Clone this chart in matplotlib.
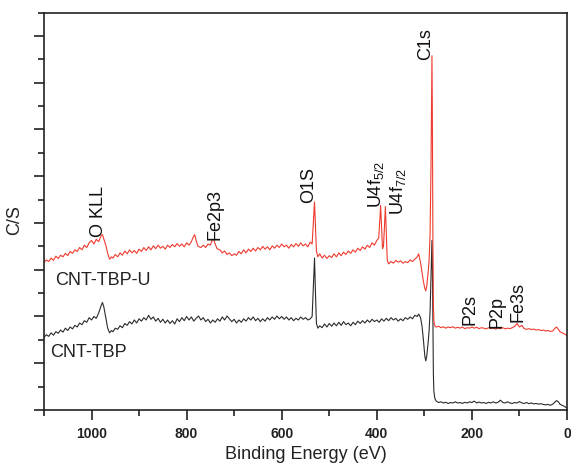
import matplotlib
matplotlib.use("Agg")
import matplotlib.pyplot as plt
from matplotlib.ticker import MultipleLocator, NullFormatter

plt.rcParams['font.family'] = ['Liberation Sans', 'DejaVu Sans']
plt.rcParams['mathtext.fontset'] = 'custom'
plt.rcParams['mathtext.rm'] = 'Liberation Sans'
plt.rcParams['mathtext.it'] = 'Liberation Sans'

# ---- data (binding energy in eV, intensity in arbitrary C/S units) ----
be_tbp = [1100, 1095, 1090, 1085, 1080, 1075, 1070, 1065, 1060, 1055, 1050, 1045, 1040, 1035, 1030, 1025, 1020, 1015, 1010, 1005, 1000,
          995, 990, 985, 980, 977, 974, 970, 966, 962, 958, 955, 950, 945, 940, 935, 930, 925, 920, 915, 910, 905, 900,
          895, 890, 885, 880, 875, 870, 865, 860, 855, 850, 845, 840, 835, 830, 825, 820, 815, 810, 805, 800,
          795, 790, 785, 780, 775, 770, 765, 760, 755, 750, 745, 740, 735, 730, 725, 720, 715, 710, 705, 700,
          695, 690, 685, 680, 675, 670, 665, 660, 655, 650, 645, 640, 635, 630, 625, 620, 615, 610, 605, 600,
          595, 590, 585, 580, 575, 570, 565, 560, 555, 550, 545, 540, 536, 533, 531, 529, 527, 524, 520,
          515, 510, 505, 500, 495, 490, 485, 480, 475, 470, 465, 460, 455, 450, 445, 440, 435, 430, 425, 420,
          415, 410, 405, 400, 395, 390, 385, 380, 375, 370, 365, 360, 355, 350, 345, 340, 335, 330, 325, 320,
          315, 312, 308, 305, 302, 299, 297, 295, 292, 290, 288, 286, 284, 283, 282, 281, 280, 278, 275, 270,
          265, 260, 255, 250, 245, 240, 235, 230, 225, 220, 215, 210, 205, 200, 195, 190, 185, 180, 175, 170,
          165, 160, 155, 150, 145, 140, 135, 130, 125, 120, 115, 110, 105, 100, 95, 90, 85, 80, 75, 70,
          65, 60, 55, 50, 45, 40, 35, 30, 25, 22, 18, 15, 10, 5, 0]
cs_tbp = [3.10, 3.22, 3.15, 3.30, 3.20, 3.35, 3.28, 3.42, 3.33, 3.50, 3.40, 3.55, 3.47, 3.62, 3.55, 3.72, 3.65, 3.82, 3.75, 3.95, 3.85,
          4.00, 3.92, 4.15, 4.45, 4.60, 4.40, 3.95, 3.50, 3.30, 3.40, 3.35, 3.50, 3.45, 3.60, 3.52, 3.70, 3.62, 3.78, 3.68, 3.85, 3.72, 3.90,
          3.80, 3.95, 3.85, 4.05, 3.88, 3.98, 3.80, 3.92, 3.75, 3.88, 3.72, 3.85, 3.70, 3.82, 3.68, 3.90, 3.78, 3.95, 3.82, 4.00,
          3.85, 3.98, 3.80, 3.92, 4.02, 3.85, 3.95, 3.78, 3.88, 3.72, 3.85, 3.75, 3.90, 3.80, 3.98, 3.85, 4.02, 3.90, 3.78, 3.88,
          3.72, 3.85, 3.75, 3.90, 3.80, 3.95, 3.85, 3.98, 3.82, 3.92, 3.78, 3.90, 3.80, 3.95, 3.85, 3.98, 3.88, 4.02, 3.90, 4.00,
          3.88, 3.98, 3.85, 3.95, 3.82, 3.92, 3.85, 3.98, 3.88, 3.95, 3.85, 3.90, 4.00, 5.50, 6.50, 5.00, 3.70, 3.50, 3.60,
          3.52, 3.68, 3.55, 3.70, 3.58, 3.72, 3.60, 3.75, 3.62, 3.78, 3.65, 3.72, 3.60, 3.75, 3.65, 3.80, 3.70, 3.82, 3.72, 3.85,
          3.75, 3.88, 3.78, 3.85, 3.75, 3.90, 3.80, 3.92, 3.82, 3.95, 3.85, 3.92, 3.80, 3.90, 3.82, 3.95, 3.88, 3.98, 3.90, 4.05,
          4.00, 4.10, 3.95, 3.60, 3.00, 2.30, 2.10, 2.30, 2.90, 3.40, 4.20, 5.80, 7.25, 6.00, 3.50, 1.50, 0.80, 0.50, 0.38, 0.32,
          0.35, 0.30, 0.33, 0.28, 0.32, 0.30, 0.35, 0.30, 0.32, 0.28, 0.33, 0.30, 0.35, 0.32, 0.38, 0.30, 0.34, 0.30, 0.32, 0.28,
          0.33, 0.30, 0.35, 0.30, 0.33, 0.42, 0.32, 0.30, 0.35, 0.30, 0.28, 0.32, 0.30, 0.36, 0.30, 0.28, 0.32, 0.27, 0.30, 0.26,
          0.28, 0.25, 0.27, 0.24, 0.22, 0.24, 0.20, 0.25, 0.35, 0.40, 0.35, 0.25, 0.20, 0.15, 0.08]

be_tbpu = [1100, 1095, 1090, 1085, 1080, 1075, 1070, 1065, 1060, 1055, 1050, 1045, 1040, 1035, 1030, 1025, 1020, 1015, 1010, 1005, 1000,
           995, 990, 985, 980, 977, 974, 970, 966, 962, 958, 955, 950, 945, 940, 935, 930, 925, 920, 915, 910, 905, 900,
           895, 890, 885, 880, 875, 870, 865, 860, 855, 850, 845, 840, 835, 830, 825, 820, 815, 810, 805, 800,
           795, 790, 786, 783, 780, 776, 770, 765, 760, 755, 750, 746, 743, 740, 736, 730, 725, 720, 715, 710, 705, 700,
           695, 690, 685, 680, 675, 670, 665, 660, 655, 650, 645, 640, 635, 630, 625, 620, 615, 610, 605, 600,
           595, 590, 585, 580, 575, 570, 565, 560, 555, 550, 545, 540, 536, 533, 531, 529, 527, 524, 520,
           515, 510, 505, 500, 495, 490, 485, 480, 475, 470, 465, 460, 455, 450, 445, 440, 435, 430, 425, 420,
           415, 410, 405, 400, 396, 394, 392, 390, 388, 386, 384, 382, 380, 378, 375, 370, 365, 360, 355, 350,
           345, 340, 335, 330, 325, 320, 315, 312, 308, 305, 302, 299, 297, 295, 292, 290, 288, 286, 284, 283,
           282, 281, 280, 278, 275, 270, 265, 260, 255, 250, 245, 240, 235, 230, 225, 220, 215, 210, 205, 200,
           195, 190, 185, 180, 175, 170, 165, 160, 155, 150, 145, 140, 135, 130, 125, 120, 115, 110, 105, 100,
           95, 90, 85, 80, 75, 70, 65, 60, 55, 50, 45, 40, 35, 30, 25, 22, 18, 15, 10, 5, 0]
cs_tbpu = [6.30, 6.42, 6.35, 6.50, 6.40, 6.58, 6.48, 6.62, 6.55, 6.70, 6.60, 6.78, 6.70, 6.85, 6.78, 6.95, 6.85, 7.05, 6.95, 7.15, 7.25,
           7.10, 7.30, 7.20, 7.45, 7.50, 7.30, 7.05, 6.70, 6.45, 6.55, 6.50, 6.65, 6.55, 6.72, 6.62, 6.80, 6.68, 6.85, 6.72, 6.82, 6.70, 6.88,
           6.78, 6.95, 6.82, 6.98, 6.85, 7.02, 6.90, 7.05, 6.92, 7.00, 6.88, 7.05, 6.95, 7.08, 6.98, 7.12, 7.00, 7.10, 6.98, 7.15,
           7.05, 7.20, 7.40, 7.50, 7.25, 7.00, 6.95, 7.05, 6.95, 7.10, 7.05, 7.28, 7.30, 7.10, 6.90, 6.85, 6.72, 6.80, 6.65, 6.72, 6.60, 6.68,
           6.62, 6.78, 6.68, 6.85, 6.72, 6.88, 6.78, 6.92, 6.80, 6.95, 6.85, 7.00, 6.88, 6.98, 6.85, 7.02, 6.92, 7.05, 6.95, 7.10,
           6.98, 7.05, 6.92, 7.08, 6.98, 7.12, 7.00, 7.15, 7.02, 7.10, 6.98, 7.18, 7.10, 8.20, 8.90, 7.80, 6.80, 6.55, 6.68,
           6.50, 6.62, 6.48, 6.60, 6.52, 6.68, 6.55, 6.72, 6.60, 6.75, 6.65, 6.80, 6.70, 6.85, 6.75, 6.92, 6.82, 6.98, 6.88, 7.05,
           6.95, 7.15, 7.05, 7.25, 7.35, 8.00, 8.75, 7.80, 6.90, 7.00, 7.80, 8.70, 7.60, 6.40, 6.25, 6.35, 6.28, 6.40, 6.32, 6.38,
           6.28, 6.35, 6.30, 6.42, 6.35, 6.45, 6.55, 6.68, 6.30, 5.90, 5.50, 5.20, 5.10, 5.30, 5.90, 6.40, 7.50, 10.50, 15.15, 12.00,
           7.00, 4.50, 3.80, 3.60, 3.55, 3.58, 3.52, 3.56, 3.50, 3.55, 3.52, 3.56, 3.50, 3.54, 3.50, 3.55, 3.48, 3.52, 3.50, 3.55,
           3.50, 3.54, 3.48, 3.52, 3.50, 3.47, 3.52, 3.48, 3.50, 3.46, 3.50, 3.48, 3.52, 3.47, 3.50, 3.48, 3.52, 3.58, 3.70, 3.55,
           3.62, 3.48, 3.45, 3.48, 3.44, 3.46, 3.42, 3.44, 3.40, 3.42, 3.38, 3.40, 3.36, 3.38, 3.50, 3.55, 3.45, 3.35, 3.30, 3.25, 3.18]

x_major = [1000, 800, 600, 400, 200, 0]
x_labels = ['1000', '800', '600', '400', '200', '0']

peak_labels = ['O KLL', 'Fe2p3', 'O1S', 'U4f$_{5/2}$', 'U4f$_{7/2}$', 'C1s', 'P2s', 'P2p', 'Fe3s']
peak_x = [986, 740, 544, 401, 355, 298, 204, 147, 103]
peak_y = [7.4, 7.27, 8.85, 8.64, 8.34, 14.97, 3.64, 3.5, 3.76]

series_names = ['CNT-TBP-U', 'CNT-TBP']
series_label_x = [1076, 1087]
series_label_y = [5.56, 2.44]

# ---- figure ----
fig = plt.figure(figsize=(5.71, 4.69), dpi=100)
ax = fig.add_axes([0.077, 0.1258, 0.916, 0.8475])

ax.plot(be_tbp, cs_tbp, color='#2b2b2b', lw=0.8)
ax.plot(be_tbpu, cs_tbpu, color='#ee3b2f', lw=0.8)

ax.set_xlim(1100, 0)
ax.set_ylim(0, 17)

ax.set_xticks(x_major)
ax.set_xticklabels(x_labels, fontsize=10, fontweight='bold', color='#222222')
ax.xaxis.set_minor_locator(MultipleLocator(100))
ax.yaxis.set_major_locator(MultipleLocator(2))
ax.yaxis.set_minor_locator(MultipleLocator(1))
ax.yaxis.set_major_formatter(NullFormatter())
ax.tick_params(axis='both', which='major', direction='out', length=7, width=1.2, color='#222222')
ax.tick_params(axis='both', which='minor', direction='out', length=4, width=1.2, color='#222222')
ax.tick_params(axis='x', which='major', pad=5)
for s in ax.spines.values():
    s.set_linewidth(1.2)
    s.set_color('#222222')

ax.set_xlabel('Binding Energy (eV)', fontsize=13, color='#222222', labelpad=4)
ax.set_ylabel('C/S', fontsize=13, color='#222222')
ax.yaxis.set_label_coords(-0.04, 0.478)

for t, x, y in zip(peak_labels, peak_x, peak_y):
    ax.text(x, y, t, rotation=90, ha='center', va='bottom', fontsize=13, color='#111111')

for t, x, y in zip(series_names, series_label_x, series_label_y):
    ax.text(x, y, t, ha='left', va='center', fontsize=13, color='#222222')

fig.savefig('out.png', dpi=100)
